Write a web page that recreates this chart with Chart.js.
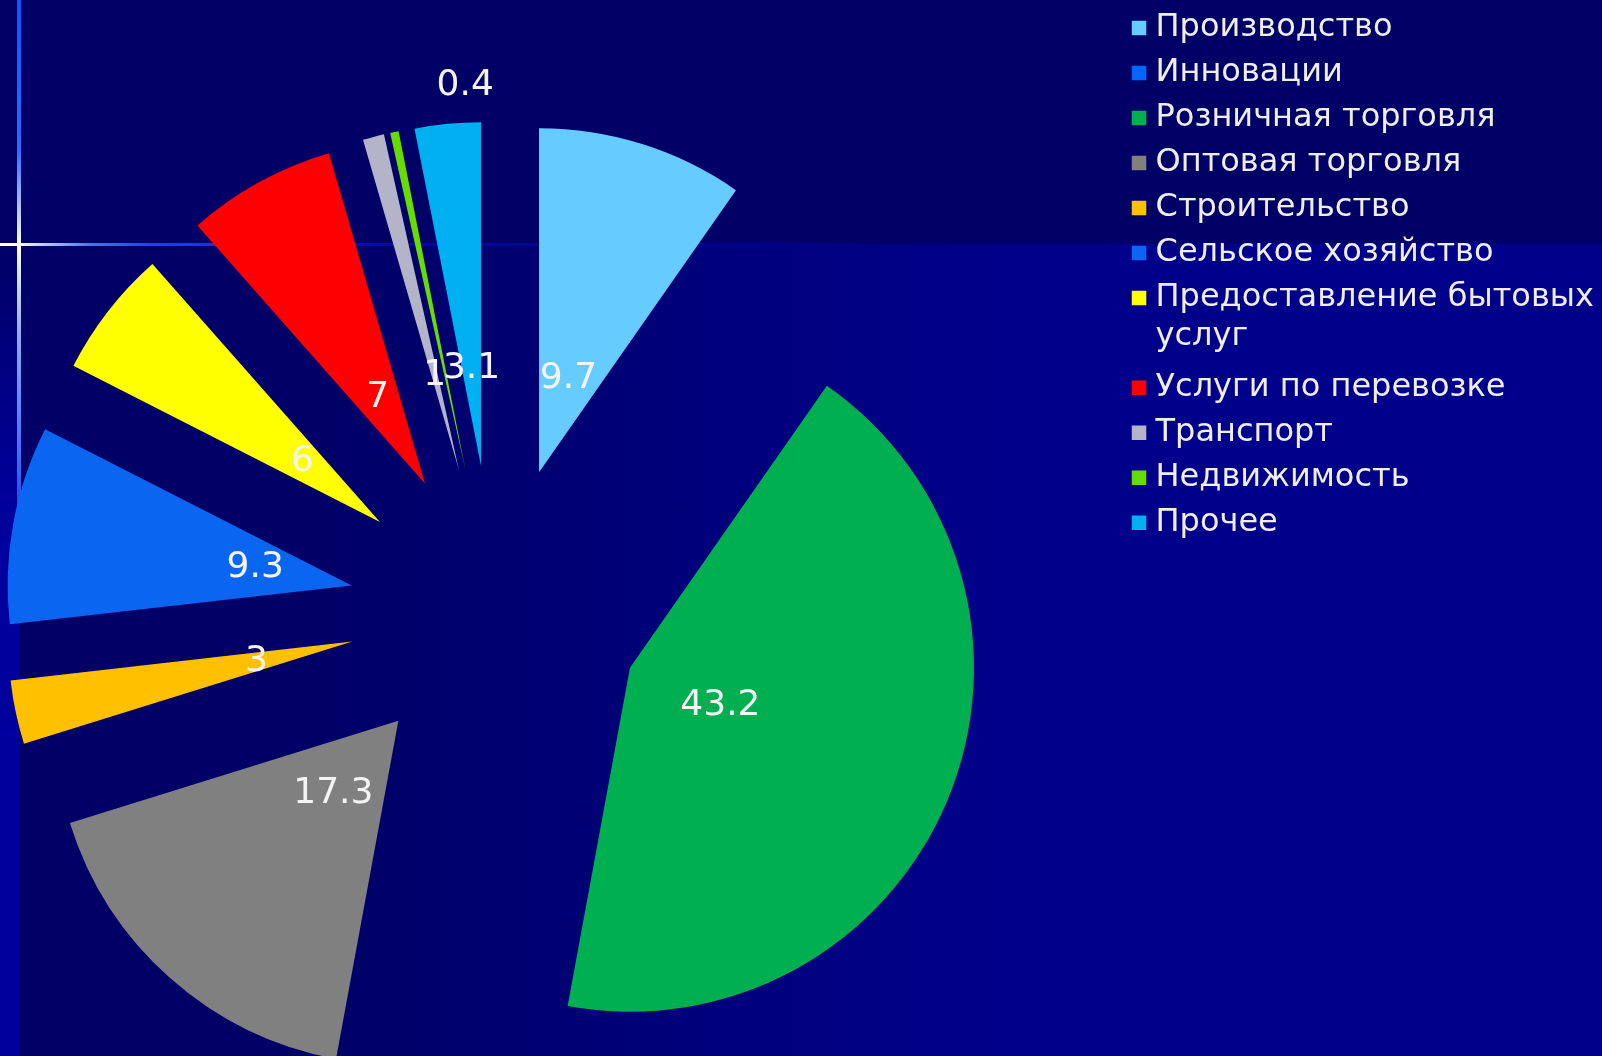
<!doctype html>
<html>
<head>
  <meta charset="utf-8">
  <title>Структура по видам деятельности</title>

  <!-- Chart.js 4 -->
  <script src="https://cdn.jsdelivr.net/npm/chart.js@4.4.1/dist/chart.umd.min.js"></script>

  <style>
    html,body{margin:0;padding:0;width:1602px;height:1056px;overflow:hidden;}
    body{position:relative;background:#00008a;font-family:"DejaVu Sans",sans-serif;}
    /* slide background: dark band on top, lighter blue below, two glowing rules */
    #bgTop{position:absolute;left:0;top:0;width:1602px;height:244px;background:#000066;}
    #bgLow{position:absolute;left:0;top:244px;width:1602px;height:812px;
           background:linear-gradient(to right,#000066 0,#000066 300px,#00008a 1000px);}
    #strip{position:absolute;left:0;top:244px;width:19px;height:812px;
           background:linear-gradient(#000066 0,#00009c 260px);}
    #hline{position:absolute;left:0;top:243px;width:900px;height:3px;
           background:linear-gradient(to right,#ffffe0 0,#ffffe0 18px,#3a7cff 90px,#1046ff 150px,#0000c0 400px,rgba(0,0,160,0) 900px);}
    #vline{position:absolute;left:17px;top:0;width:4px;height:600px;
           background:linear-gradient(#1155ff 0,#2a6cff 150px,#fffff0 245px,#8fb0ff 330px,#3366ff 470px,rgba(0,0,170,0) 600px);}
    #wrap{position:absolute;top:-1px;left:-135px;}
  </style>
</head>
<body>
<div id="bgTop"></div>
<div id="bgLow"></div>
<div id="strip"></div>
<div id="hline"></div>
<div id="vline"></div>

<div id="wrap"><canvas id="pie"></canvas></div>

<script>
// ---- data ----------
const categories = [
  'Производство', 'Инновации', 'Розничная торговля', 'Оптовая торговля',
  'Строительство', 'Сельское хозяйство', ['Предоставление бытовых', 'услуг'],
  'Услуги по перевозке', 'Транспорт', 'Недвижимость', 'Прочее'
];
const shares = [9.7, 0, 43.2, 17.3, 3, 9.3, 6, 7, 1, 0.4, 3.1];
const sliceColors = [
  '#66ccff', '#0066ff', '#00b050', '#808080', '#ffc000', '#0a66f0',
  '#ffff00', '#ff0000', '#b4b4c8', '#66dd00', '#00b0f0'
];

// ---- layout ----------
const FONT = "'DejaVu Sans', sans-serif";
const LEGEND_SIZE = 32, LEGEND_PAD = 13, LEGEND_BOX = 1;
const RADIUS = 344, EXPLODE = 146;

// legend sits on the right; size the canvas so the pie centre lands at (495.5, 611.5)
const meas = document.createElement('canvas').getContext('2d');
meas.font = LEGEND_SIZE + 'px ' + FONT;
const widest = Math.max(...categories.flat().map(t => meas.measureText(t).width));
const legendW = LEGEND_PAD + LEGEND_BOX + LEGEND_SIZE / 2 + widest + 10;
const wrap = document.getElementById('wrap');
wrap.style.width  = Math.round(1261 + legendW) + 'px';
wrap.style.height = '1225px';

// every slice pulled out from the centre, labels near the apex
const explode = {
  id: 'explode',
  beforeDatasetDraw(chart, args, opts) {
    const ctx = chart.ctx;
    args.meta.data.forEach(arc => {
      const mid = (arc.startAngle + arc.endAngle) / 2;
      ctx.save();
      ctx.translate(Math.cos(mid) * opts.distance, Math.sin(mid) * opts.distance);
      arc.draw(ctx);
      ctx.restore();
    });
    return false;
  },
  afterDatasetsDraw(chart, args, opts) {
    const ctx = chart.ctx;
    const meta = chart.getDatasetMeta(0);
    const values = chart.data.datasets[0].data;
    ctx.save();
    ctx.font = opts.font;
    ctx.fillStyle = opts.color;
    ctx.textAlign = 'center';
    ctx.textBaseline = 'middle';
    meta.data.forEach((arc, i) => {
      const v = values[i];
      if (!v) return;
      const mid = (arc.startAngle + arc.endAngle) / 2;
      const cx = Math.cos(mid), sy = Math.sin(mid);
      const ax = arc.x + cx * opts.distance, ay = arc.y + sy * opts.distance;
      let x, y;
      if (v < opts.outsideBelow) {          // too thin: label above the tip
        x = ax; y = ay - arc.outerRadius - opts.outsideGap;
      } else {
        x = ax + cx * opts.labelDistance; y = ay + sy * opts.labelDistance;
      }
      ctx.fillText(String(v), x, y);
    });
    ctx.restore();
  }
};

new Chart(document.getElementById('pie'), {
  type: 'pie',
  data: {
    labels: categories,
    datasets: [{
      data: shares,
      backgroundColor: sliceColors,
      borderWidth: 0
    }]
  },
  options: {
    responsive: true,
    maintainAspectRatio: false,
    animation: false,
    events: [],
    radius: RADIUS,
    layout: { padding: 0 },
    plugins: {
      tooltip: { enabled: false },
      legend: {
        position: 'right',
        align: 'start',
        labels: {
          color: '#eeeeee',
          font: { family: FONT, size: LEGEND_SIZE, lineHeight: 1.2 },
          padding: LEGEND_PAD,
          usePointStyle: true,
          pointStyle: 'rect',
          boxWidth: LEGEND_BOX,
          boxHeight: 14.5
        }
      },
      explode: {
        distance: EXPLODE,
        labelDistance: 98,
        outsideBelow: 0.5,
        outsideGap: 39,
        font: '36px ' + FONT,
        color: '#f4f4f4'
      }
    }
  },
  plugins: [explode]
});
</script>
</body>
</html>
